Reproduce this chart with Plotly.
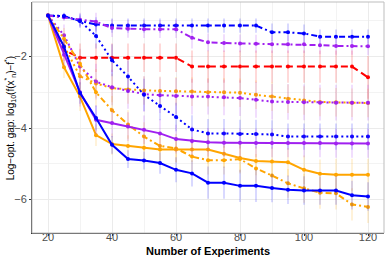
import plotly.graph_objects as go

x_vals = [20, 25, 30, 35, 40, 45, 50, 55, 60, 65, 70, 75, 80, 85, 90, 95, 100, 105, 110, 115, 120]

# series means (log10 optimality gap)
blue_dashdot = [-0.85, -0.86, -1.0, -1.1, -1.13, -1.13, -1.13, -1.13, -1.13, -1.13, -1.13, -1.13, -1.13, -1.13, -1.32, -1.32, -1.35, -1.44, -1.44, -1.44, -1.44]
purple_dashdot = [-0.85, -0.9, -0.97, -1.02, -1.2, -1.22, -1.23, -1.23, -1.23, -1.47, -1.6, -1.62, -1.63, -1.64, -1.65, -1.65, -1.65, -1.68, -1.7, -1.7, -1.71]
red_dash = [-0.85, -1.82, -2.03, -2.03, -2.03, -2.03, -2.03, -2.03, -2.03, -2.28, -2.28, -2.28, -2.28, -2.28, -2.28, -2.28, -2.28, -2.28, -2.28, -2.28, -2.58]
orange_dot = [-0.85, -1.7, -2.55, -2.75, -2.88, -2.92, -2.95, -2.96, -2.97, -2.98, -3.0, -3.0, -3.01, -3.07, -3.12, -3.18, -3.23, -3.27, -3.28, -3.29, -3.3]
purple_dot = [-0.85, -1.4, -2.28, -2.7, -2.86, -2.96, -3.05, -3.08, -3.1, -3.12, -3.12, -3.14, -3.16, -3.21, -3.26, -3.27, -3.28, -3.29, -3.29, -3.29, -3.29]
blue_dot = [-0.85, -0.87, -1.0, -1.42, -2.1, -2.56, -3.07, -3.38, -3.69, -4.04, -4.15, -4.15, -4.17, -4.17, -4.18, -4.24, -4.24, -4.24, -4.24, -4.24, -4.24]
purple_solid = [-0.85, -1.95, -3.0, -3.77, -3.86, -3.96, -4.05, -4.15, -4.31, -4.36, -4.4, -4.41, -4.41, -4.42, -4.42, -4.42, -4.42, -4.42, -4.43, -4.43, -4.43]
orange_solid = [-0.85, -2.3, -3.12, -4.2, -4.45, -4.5, -4.55, -4.6, -4.6, -4.6, -4.6, -4.72, -4.84, -4.92, -4.94, -4.96, -5.17, -5.28, -5.31, -5.31, -5.31]
blue_solid = [-0.85, -1.72, -3.02, -3.72, -4.47, -4.87, -4.91, -4.98, -5.17, -5.27, -5.53, -5.53, -5.62, -5.62, -5.68, -5.73, -5.75, -5.75, -5.75, -5.88, -5.92]
orange_dashdot = [-0.85, -1.5, -2.2, -3.0, -3.5, -3.9, -4.24, -4.5, -4.57, -4.8, -4.9, -4.9, -4.87, -5.13, -5.33, -5.55, -5.69, -5.81, -5.83, -6.14, -6.21]

# error bar half-widths
err_blue_dashdot = [0.0, 0.08, 0.15, 0.2, 0.2, 0.2, 0.2, 0.2, 0.2, 0.2, 0.2, 0.2, 0.2, 0.2, 0.25, 0.25, 0.25, 0.2, 0.2, 0.2, 0.2]
err_purple_dashdot = [0.0, 0.1, 0.2, 0.25, 0.25, 0.25, 0.25, 0.25, 0.25, 0.3, 0.25, 0.25, 0.25, 0.25, 0.25, 0.25, 0.25, 0.25, 0.25, 0.25, 0.25]
err_red_dash = [0.0, 0.3, 0.4, 0.4, 0.4, 0.4, 0.4, 0.4, 0.4, 0.45, 0.45, 0.45, 0.45, 0.45, 0.45, 0.45, 0.45, 0.45, 0.45, 0.45, 0.6]
err_orange_dot = [0.0, 0.3, 0.4, 0.4, 0.4, 0.4, 0.4, 0.4, 0.4, 0.4, 0.4, 0.4, 0.4, 0.4, 0.4, 0.4, 0.4, 0.4, 0.4, 0.4, 0.4]
err_purple_dot = [0.0, 0.3, 0.5, 0.5, 0.5, 0.5, 0.5, 0.5, 0.5, 0.5, 0.5, 0.5, 0.5, 0.5, 0.5, 0.5, 0.5, 0.5, 0.5, 0.5, 0.5]
err_blue_dot = [0.0, 0.1, 0.2, 0.35, 0.45, 0.45, 0.45, 0.4, 0.4, 0.4, 0.4, 0.4, 0.4, 0.4, 0.4, 0.37, 0.37, 0.37, 0.37, 0.37, 0.37]
err_purple_solid = [0.0, 0.3, 0.4, 0.4, 0.4, 0.4, 0.4, 0.4, 0.4, 0.4, 0.4, 0.4, 0.4, 0.4, 0.4, 0.4, 0.4, 0.4, 0.4, 0.4, 0.4]
err_orange_solid = [0.0, 0.3, 0.4, 0.3, 0.3, 0.3, 0.3, 0.35, 0.35, 0.35, 0.4, 0.4, 0.4, 0.4, 0.4, 0.4, 0.4, 0.4, 0.45, 0.45, 0.45]
err_blue_solid = [0.0, 0.2, 0.3, 0.35, 0.25, 0.25, 0.25, 0.3, 0.35, 0.37, 0.45, 0.45, 0.45, 0.45, 0.4, 0.4, 0.4, 0.4, 0.4, 0.4, 0.4]
err_orange_dashdot = [0.0, 0.3, 0.4, 0.4, 0.4, 0.4, 0.4, 0.4, 0.4, 0.4, 0.4, 0.4, 0.4, 0.4, 0.4, 0.4, 0.4, 0.45, 0.45, 0.45, 0.45]

BLUE = "#0000FF"
PURPLE = "#A020F0"
ORANGE = "#FFA500"
RED = "#FF0000"

DASHES = {"solid": "solid", "dot": "2px,3px", "dashdot": "6px,3px,2px,3px", "dash": "7px,4px"}

def rgba(hex_color, a):
    h = hex_color.lstrip("#")
    r, g, b = int(h[0:2], 16), int(h[2:4], 16), int(h[4:6], 16)
    return f"rgba({r},{g},{b},{a})"

series = [
    (blue_dashdot, err_blue_dashdot, BLUE, "dashdot"),
    (purple_dashdot, err_purple_dashdot, PURPLE, "dashdot"),
    (red_dash, err_red_dash, RED, "dash"),
    (orange_dot, err_orange_dot, ORANGE, "dot"),
    (purple_dot, err_purple_dot, PURPLE, "dot"),
    (blue_dot, err_blue_dot, BLUE, "dot"),
    (orange_dashdot, err_orange_dashdot, ORANGE, "dashdot"),
    (orange_solid, err_orange_solid, ORANGE, "solid"),
    (purple_solid, err_purple_solid, PURPLE, "solid"),
    (blue_solid, err_blue_solid, BLUE, "solid"),
]

fig = go.Figure()
for y, e, c, d in series:
    fig.add_trace(go.Scatter(
        x=x_vals, y=y, mode="lines+markers",
        line=dict(color=c, width=2, dash=DASHES[d]),
        marker=dict(color=c, size=4),
        error_y=dict(type="data", array=e, visible=True, color=rgba(c, 0.15), thickness=2, width=0),
        showlegend=False,
    ))

FONT = "Liberation Sans, Arial, sans-serif"
grid = "#EBEBEB"

fig.update_layout(
    width=388, height=280,
    margin=dict(l=32, r=4, t=2, b=47),
    paper_bgcolor="white", plot_bgcolor="white",
    font=dict(family=FONT, size=11, color="#4D4D4D"),
    xaxis=dict(
        range=[15, 125], tickvals=[20, 40, 60, 80, 100, 120],
        showgrid=True, gridcolor=grid, gridwidth=1,
        minor=dict(tickvals=[30, 50, 70, 90, 110], showgrid=True, gridcolor="#F3F3F3", gridwidth=1, ticks=""),
        showline=True, linecolor="#333333", linewidth=1,
        ticks="outside", ticklen=2, tickcolor="#333333",
        ticklabelstandoff=-8,
        tickfont=dict(size=11, color="#4D4D4D"),
        zeroline=False, automargin=False,
    ),
    yaxis=dict(
        range=[-6.94, -0.47], tickvals=[-6, -4, -2], ticktext=["\u22126", "\u22124", "\u22122"],
        showgrid=True, gridcolor=grid, gridwidth=1,
        minor=dict(tickvals=[-5, -3, -1], showgrid=True, gridcolor="#F3F3F3", gridwidth=1, ticks=""),
        showline=True, linecolor="#333333", linewidth=1,
        ticks="outside", ticklen=2, tickcolor="#333333",
        tickfont=dict(size=11, color="#4D4D4D"),
        zeroline=False, automargin=False,
    ),
    shapes=[dict(type="rect", xref="paper", yref="paper", x0=0, y0=0, x1=1, y1=1,
                 line=dict(color="#BDBDBD", width=1), fillcolor="rgba(0,0,0,0)", layer="above")],
    annotations=[
        dict(text="<b>Number of Experiments</b>", xref="paper", yref="paper",
             x=0.5, y=-0.08, xanchor="center", yanchor="middle", showarrow=False,
             font=dict(size=11, color="black")),
        dict(text="Log\u2212opt. gap: log<sub>10</sub>(f(x<sup>*</sup><sub>n</sub>)\u2212f<sup>*</sup>)",
             xref="paper", yref="paper", x=-0.063, y=0.5, xanchor="center", yanchor="middle",
             textangle=-90, showarrow=False, font=dict(size=10, color="black")),
    ],
)

fig.write_html("out.html", config={"displayModeBar": False},
               post_script="document.body.style.margin='0';document.body.style.padding='0';")
